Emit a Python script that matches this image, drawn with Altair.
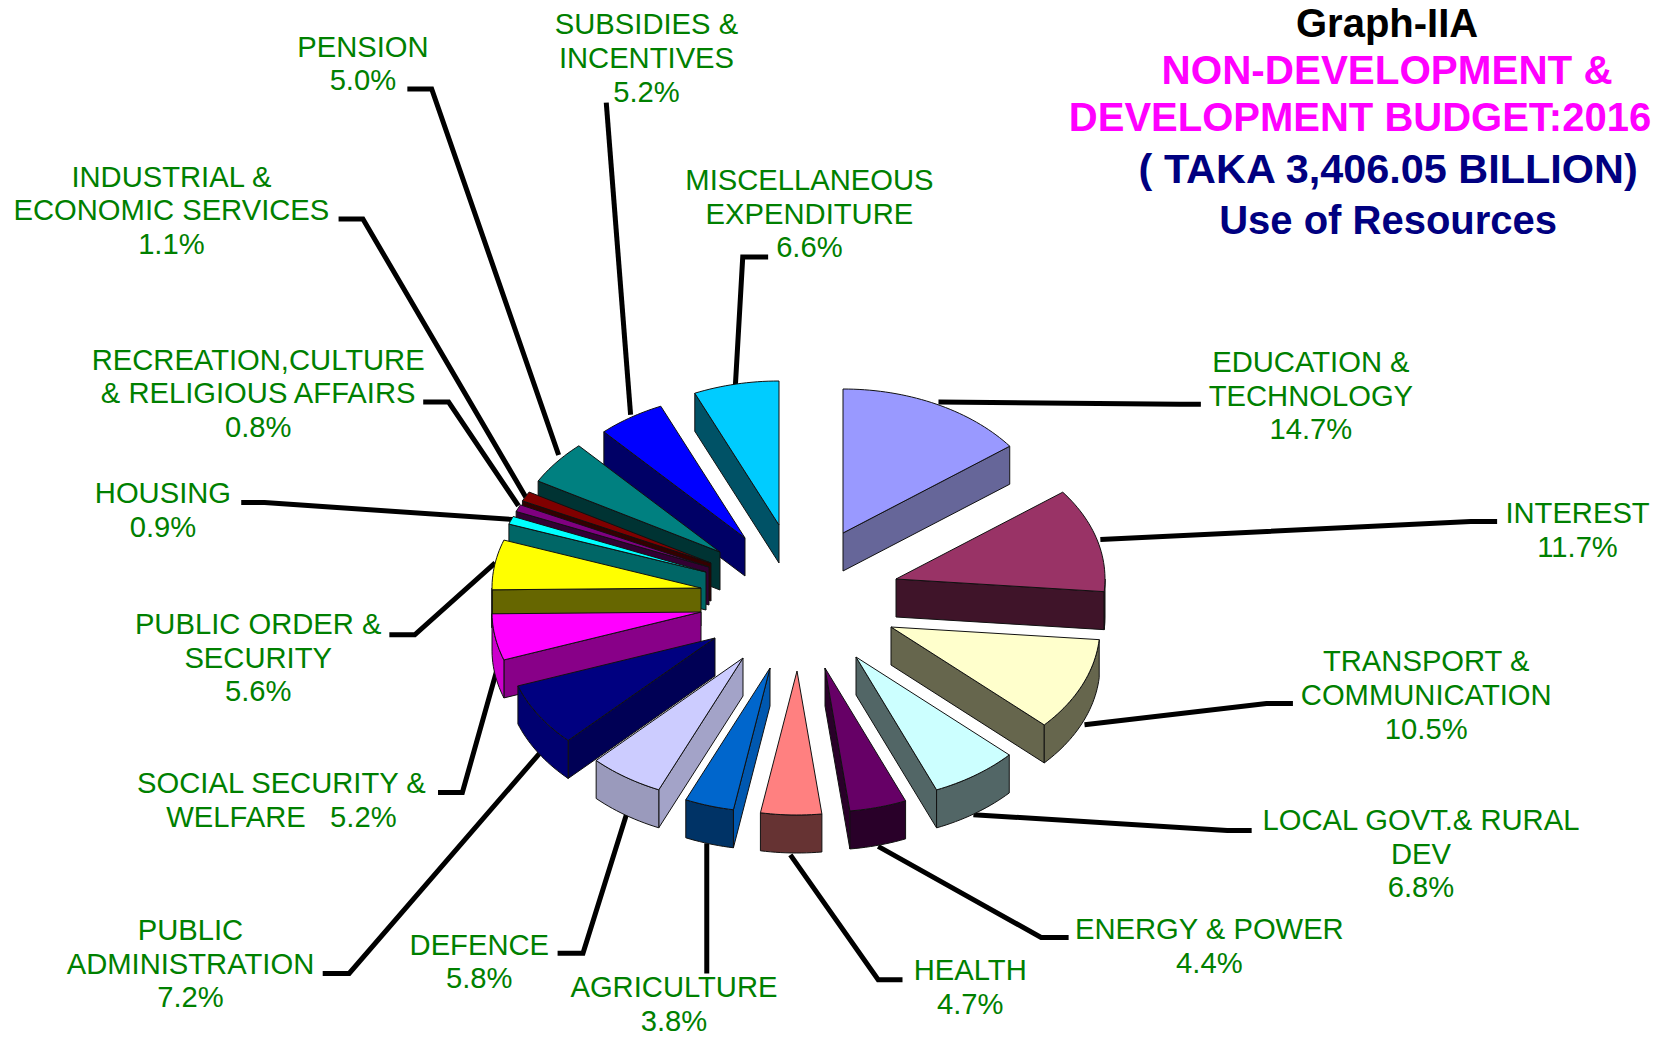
import math
import altair as alt

# ---------- data ----------
NAMES = ["EDUCATION & TECHNOLOGY", "INTEREST", "TRANSPORT & COMMUNICATION", "LOCAL GOVT.& RURAL DEV",
         "ENERGY & POWER", "HEALTH", "AGRICULTURE", "DEFENCE", "PUBLIC ADMINISTRATION",
         "SOCIAL SECURITY & WELFARE", "PUBLIC ORDER & SECURITY", "HOUSING",
         "RECREATION,CULTURE & RELIGIOUS AFFAIRS", "INDUSTRIAL & ECONOMIC SERVICES", "PENSION",
         "SUBSIDIES & INCENTIVES", "MISCELLANEOUS EXPENDITURE"]
VALUES = [14.7, 11.7, 10.5, 6.8, 4.4, 4.7, 3.8, 5.8, 7.2, 5.2, 5.6, 0.9, 0.8, 1.1, 5.0, 5.2, 6.6]
LABEL_LINES = [["EDUCATION &", "TECHNOLOGY", "14.7%"], ["INTEREST", "11.7%"],
               ["TRANSPORT &", "COMMUNICATION", "10.5%"], ["LOCAL GOVT.& RURAL", "DEV", "6.8%"],
               ["ENERGY & POWER", "4.4%"], ["HEALTH", "4.7%"], ["AGRICULTURE", "3.8%"],
               ["DEFENCE", "5.8%"], ["PUBLIC", "ADMINISTRATION", "7.2%"],
               ["SOCIAL SECURITY &", "WELFARE\u00a0\u00a0\u00a05.2%"], ["PUBLIC ORDER &", "SECURITY", "5.6%"],
               ["HOUSING", "0.9%"], ["RECREATION,CULTURE", "& RELIGIOUS AFFAIRS", "0.8%"],
               ["INDUSTRIAL &", "ECONOMIC SERVICES", "1.1%"], ["PENSION", "5.0%"],
               ["SUBSIDIES &", "INCENTIVES", "5.2%"], ["MISCELLANEOUS", "EXPENDITURE", "6.6%"]]
TITLE_LINES = ["Graph-IIA", "NON-DEVELOPMENT &", "DEVELOPMENT BUDGET:2016",
               "( TAKA 3,406.05 BILLION)", "Use of Resources"]

# ---------- colours ----------
TOP = ["#9999FF", "#993366", "#FFFFCC", "#CCFFFF", "#660066", "#FF8080", "#0066CC", "#CCCCFF", "#000080",
       "#FF00FF", "#FFFF00", "#00FFFF", "#800080", "#800000", "#008080", "#0000FF", "#00CCFF"]
WALL_CUT = ["#666699", "#3F1429", "#66664D", "#526666", "#290029", "#663333", "#0058B0", "#A3A3C8", "#000055",
            "#880088", "#666600", "#006666", "#330033", "#330000", "#003333", "#000066", "#005266"]
WALL_OUT = ["#666699", "#3F1429", "#66664D", "#526666", "#290029", "#663333", "#003366", "#9A9ABC", "#000070",
            "#CC00CC", "#666600", "#006666", "#330033", "#330000", "#003333", "#000066", "#005266"]
TITLE_COLORS = ["#000000", "#FF00FF", "#FF00FF", "#000080", "#000080"]
LABEL_COLOR = "#008000"

# ---------- layout (page pixels unless noted) ----------
W, H = 1643, 1024
RX, RY, DEPTH = 209, 144, 38
APEX = [(843, 533), (896, 579), (891, 627), (856, 657), (825, 668), (797, 671), (770, 668), (743, 658),
        (715, 638), (701, 612), (701, 588), (706, 572), (709, 567), (711, 563), (720, 552), (745, 538), (779, 525)]
DRAW_ORDER = [16, 0, 15, 1, 14, 13, 12, 11, 10, 2, 9, 3, 8, 4, 7, 5, 6]
SHRINK = 1659 / 1568
# positions below are read in the 1568-wide view
LABEL_POS = [(1239, 343), (1491, 486), (1348, 626), (1343, 776), (1143, 879), (917, 918), (637, 934),
             (453, 894), (180, 880), (266, 741), (244, 591), (154, 467), (244, 341), (162, 168),
             (343, 45), (611, 24), (765, 171)]
LEADERS = [[(1135, 382), (1115, 382), (887, 380)], [(1415, 493), (1390, 493), (1040, 510)],
           [(1222, 665), (1197, 665), (1025, 685)], [(1183, 785), (1160, 785), (920, 770)],
           [(1010, 886), (984, 886), (830, 800)], [(853, 926), (830, 926), (747, 808)],
           [(668, 920), (668, 797)], [(527, 901), (551, 901), (592, 770)],
           [(305, 920), (330, 920), (510, 712)], [(414, 749), (437, 749), (470, 632)],
           [(368, 600), (392, 600), (468, 532)], [(228, 475), (250, 475), (484, 491)],
           [(400, 380), (424, 380), (490, 478)], [(320, 207), (343, 207), (497, 470)],
           [(385, 84), (408, 84), (528, 430)], [(573, 97), (596, 392)], [(726, 243), (702, 243), (695, 365)]]
TITLE_POS = [(1311, 24), (1311, 68), (1285.4, 112), (1312, 162), (1312, 210)]
TITLE_SIZE = [40, 40.4, 40, 41.4, 40]
LINE_GAP = 33.6
OFF = 8


def pt(ax, ay, deg, dy=0):
    a = math.radians(deg)
    return [ax + RX * math.sin(a) - OFF, ay - RY * math.cos(a) + dy - OFF]


def arc(ax, ay, a0, a1, dy=0):
    n = max(2, int((a1 - a0) / 1.5) + 1)
    return [pt(ax, ay, a0 + (a1 - a0) * i / n, dy) for i in range(n + 1)]


def feature(ring, fill, name):
    return {"type": "Feature", "properties": {"fill": fill, "name": name},
            "geometry": {"type": "Polygon", "coordinates": [ring + [ring[0]]]}}


starts = []
c = 0.0
for v in VALUES:
    starts.append(c * 3.6)
    c += v
ends = [s + v * 3.6 for s, v in zip(starts, VALUES)]

features = []
for i in DRAW_ORDER:
    ax, ay = APEX[i]
    s, e = starts[i], ends[i]
    ap = [ax - OFF, ay - OFF]
    ap2 = [ax - OFF, ay - OFF + DEPTH]
    if 180 < s < 360:
        p, q = pt(ax, ay, s), pt(ax, ay, s, DEPTH)
        features.append(feature([ap, p, q, ap2], WALL_CUT[i], NAMES[i]))
    if 0 < e < 180:
        p, q = pt(ax, ay, e), pt(ax, ay, e, DEPTH)
        features.append(feature([ap, p, q, ap2], WALL_CUT[i], NAMES[i]))
    lo, hi = max(s, 90), min(e, 270)
    if hi > lo:
        features.append(feature(arc(ax, ay, lo, hi) + arc(ax, ay, lo, hi, DEPTH)[::-1], WALL_OUT[i], NAMES[i]))
    features.append(feature([ap] + arc(ax, ay, s, e), TOP[i], NAMES[i]))

xs = alt.Scale(domain=[0, W], range=[0, W])
ys = alt.Scale(domain=[0, H], range=[0, H])

leader_rows = []
for i, path in enumerate(LEADERS):
    for k, (x, y) in enumerate(path):
        leader_rows.append({"slice": NAMES[i], "k": k, "x": x * SHRINK - OFF, "y": y * SHRINK - OFF})

label_rows = []
for i, lines in enumerate(LABEL_LINES):
    x, y = LABEL_POS[i]
    for k, t in enumerate(lines):
        label_rows.append({"text": t, "x": x * SHRINK - OFF, "y": y * SHRINK + k * LINE_GAP - OFF})

title_rows = [{"text": t, "x": p[0] * SHRINK - OFF, "y": p[1] * SHRINK - OFF, "c": col, "s": sz}
              for t, p, col, sz in zip(TITLE_LINES, TITLE_POS, TITLE_COLORS, TITLE_SIZE)]

leaders = alt.Chart(alt.Data(values=leader_rows)).mark_line(
    stroke="#000000", strokeWidth=5, strokeJoin="miter", strokeCap="butt"
).encode(
    x=alt.X("x:Q", scale=xs, axis=None),
    y=alt.Y("y:Q", scale=ys, axis=None),
    detail="slice:N",
    order="k:Q",
)

pie = alt.Chart(alt.Data(values=features)).mark_geoshape(
    stroke="#111111", strokeWidth=1, strokeJoin="round"
).encode(
    fill=alt.Fill("properties.fill:N", scale=None),
).project(type="identity", scale=1, translate=[0, 0])

labels = alt.Chart(alt.Data(values=label_rows)).mark_text(
    font="Liberation Sans", fontSize=29.2, color=LABEL_COLOR, align="center", baseline="middle"
).encode(
    x=alt.X("x:Q", scale=xs, axis=None),
    y=alt.Y("y:Q", scale=ys, axis=None),
    text="text:N",
)

# one text mark per title line so that each keeps its own size
title_layers = [
    alt.Chart(alt.Data(values=[row])).mark_text(
        font="Liberation Sans", fontSize=row["s"], fontWeight="bold", align="center", baseline="middle",
        color=row["c"],
    ).encode(
        x=alt.X("x:Q", scale=xs, axis=None),
        y=alt.Y("y:Q", scale=ys, axis=None),
        text="text:N",
    )
    for row in title_rows
]

chart = alt.layer(leaders, pie, labels, *title_layers).properties(
    width=W, height=H, padding=0, background="#FFFFFF",
    autosize=alt.AutoSizeParams(type="none"),
).configure_view(stroke=None)

chart.save("out.html", embed_options={"renderer": "svg", "actions": False})
